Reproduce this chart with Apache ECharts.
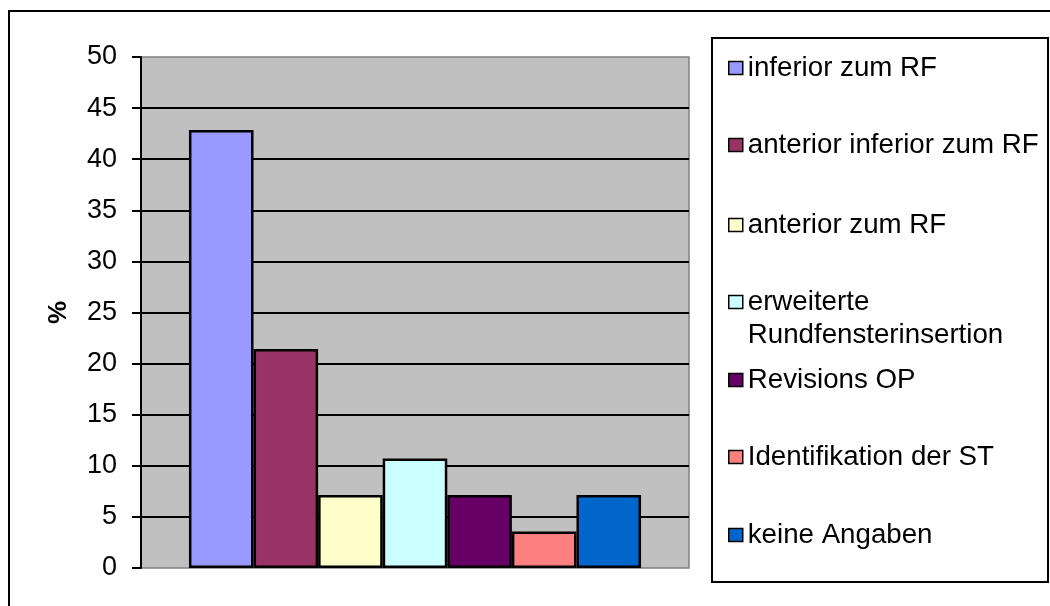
<!DOCTYPE html>
<html>
<head>
<meta charset="utf-8">
<script src="https://cdn.jsdelivr.net/npm/echarts@6/dist/echarts.min.js"></script>
<style>
  html, body { margin: 0; padding: 0; background: #fff; }
  #chart { width: 1050px; height: 606px; }
</style>
</head>
<body>
<div id="chart"></div>
<script>
// data (percent)
const seriesNames = [
  'inferior zum RF',
  'anterior inferior zum RF',
  'anterior zum RF',
  'erweiterte Rundfensterinsertion',
  'Revisions OP',
  'Identifikation der ST',
  'keine Angaben'
];
const seriesValues = [42.86, 21.43, 7.14, 10.71, 7.14, 3.57, 7.14];
const seriesColors = ['#9999FF', '#993366', '#FFFFCC', '#CCFFFF', '#660066', '#FF8080', '#0066CC'];
const yTicks = { min: 0, max: 50, step: 5 };

// vertical centre of each legend row (first text line)
const legendRows = [63, 140, 220, 297, 375, 452, 530];
const lineH = 33;
const font = '"Liberation Sans", Arial, sans-serif';

const chart = echarts.init(document.getElementById('chart'));

const series = seriesNames.map(function (name, i) {
  return {
    name: name,
    type: 'bar',
    data: [seriesValues[i]],
    barGap: '0%',
    barCategoryGap: '17.5%',
    itemStyle: { color: seriesColors[i], borderColor: '#000', borderWidth: 2.5 },
    emphasis: { disabled: true }
  };
});

const legends = seriesNames.map(function (name, i) {
  const twoLine = name === 'erweiterte Rundfensterinsertion';
  const h = twoLine ? lineH * 3 : lineH;
  return {
    data: [name],
    orient: 'vertical',
    left: 723,
    top: legendRows[i] - h / 2,
    itemWidth: 14,
    itemHeight: 13,
    icon: 'rect',
    selectedMode: false,
    itemStyle: { borderColor: '#000', borderWidth: 1.5 },
    formatter: function (n) {
      return twoLine ? ' \nerweiterte\nRundfensterinsertion' : n;
    },
    textStyle: {
      fontFamily: font, fontSize: 27.7, color: '#000',
      lineHeight: lineH, padding: [0, 0, 0, 0]
    }
  };
});

chart.setOption({
  animation: false,
  backgroundColor: '#fff',
  graphic: [
    {
      type: 'rect',
      shape: { x: 9, y: 11, width: 1100, height: 700 },
      style: { fill: 'none', stroke: '#000', lineWidth: 2 },
      silent: true
    },
    {
      type: 'rect',
      shape: { x: 712, y: 38, width: 336, height: 544 },
      style: { fill: 'none', stroke: '#000', lineWidth: 2 },
      silent: true
    }
  ],
  legend: legends,
  grid: {
    left: 141, right: 361, top: 57, bottom: 38,
    show: true, backgroundColor: '#C0C0C0',
    borderColor: '#808080', borderWidth: 1.5
  },
  xAxis: {
    type: 'category',
    data: [''],
    axisLine: { show: false },
    axisTick: { show: false },
    axisLabel: { show: false }
  },
  yAxis: {
    type: 'value',
    min: yTicks.min, max: yTicks.max, interval: yTicks.step,
    name: '%',
    nameLocation: 'middle',
    nameGap: 69,
    nameTextStyle: { fontFamily: font, fontSize: 26, fontWeight: 'bold', color: '#000' },
    axisLine: { show: true, lineStyle: { color: '#000', width: 2 } },
    axisTick: { show: true, length: 9, lineStyle: { color: '#000', width: 2 } },
    axisLabel: { fontFamily: font, fontSize: 27, color: '#000', margin: 24 },
    splitLine: {
      show: true, showMinLine: false, showMaxLine: false,
      lineStyle: { color: '#000', width: 2 }
    }
  },
  series: series
});
</script>
</body>
</html>
